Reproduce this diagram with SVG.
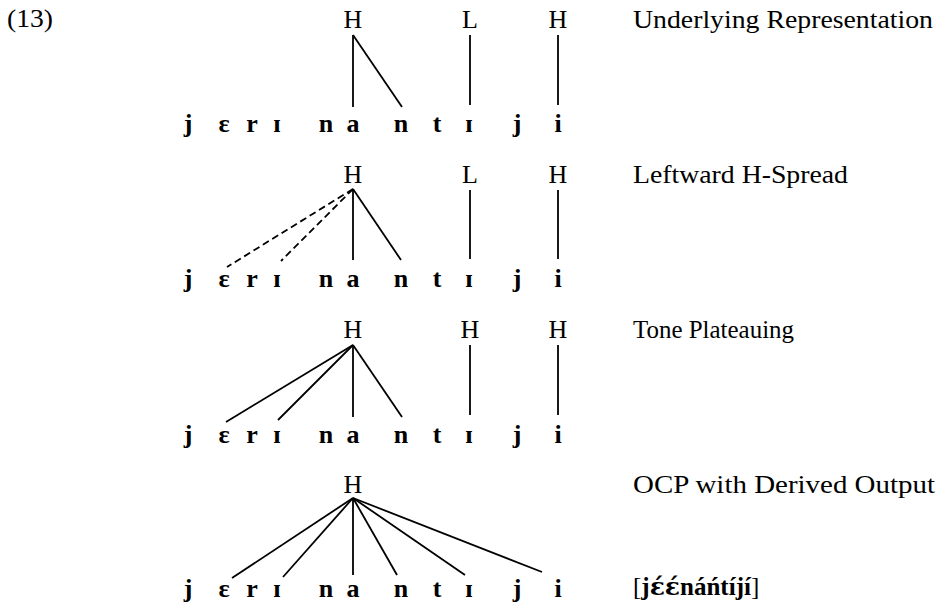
<svg xmlns="http://www.w3.org/2000/svg" width="937" height="602" viewBox="0 0 937 602">
<style>
.t{font-family:"Liberation Serif","DejaVu Serif",serif;font-size:26px;fill:#000;text-anchor:middle}
.s{font-family:"Liberation Serif","DejaVu Serif",serif;font-size:26px;font-weight:bold;fill:#000;text-anchor:middle}
.l{font-family:"Liberation Serif","DejaVu Serif",serif;font-size:25px;fill:#000}
.c line{stroke:#000;stroke-width:1.8;fill:none}
.c line.d{stroke-dasharray:7 4}
</style>
<rect width="937" height="602" fill="#fff"/>
<g id="num"><text class="l" x="7" y="27" textLength="46" lengthAdjust="spacingAndGlyphs">(13)</text></g>

<!-- Labels -->
<g id="label1"><text class="l" x="633" y="28" textLength="300" lengthAdjust="spacingAndGlyphs">Underlying Representation</text></g>
<g id="label2"><text class="l" x="633" y="183" textLength="215" lengthAdjust="spacingAndGlyphs">Leftward H-Spread</text></g>
<g id="label3"><text class="l" x="633" y="338" textLength="161" lengthAdjust="spacingAndGlyphs">Tone Plateauing</text></g>
<g id="label4"><text class="l" x="633" y="493" textLength="302" lengthAdjust="spacingAndGlyphs">OCP with Derived Output</text></g>
<g id="output"><text class="l" x="633" y="595" font-size="27">[<tspan font-weight="bold">j<tspan font-family="'DejaVu Serif',serif" font-size="25">ɛ́ɛ́</tspan>náńtíjí</tspan>]</text></g>

<!-- Row 1 tones -->
<g id="r1-H1"><text class="t" x="353" y="28">H</text></g>
<g id="r1-L"><text class="t" x="470" y="28">L</text></g>
<g id="r1-H2"><text class="t" x="558" y="28">H</text></g>
<!-- Row 2 tones -->
<g id="r2-H1"><text class="t" x="353" y="183">H</text></g>
<g id="r2-L"><text class="t" x="470" y="183">L</text></g>
<g id="r2-H2"><text class="t" x="558" y="183">H</text></g>
<!-- Row 3 tones -->
<g id="r3-H1"><text class="t" x="353" y="338">H</text></g>
<g id="r3-H2"><text class="t" x="470" y="338">H</text></g>
<g id="r3-H3"><text class="t" x="558" y="338">H</text></g>
<!-- Row 4 tone -->
<g id="r4-H"><text class="t" x="353" y="493">H</text></g>

<!-- Segment rows -->
<g id="r1-seg" class="s">
<text x="188" y="132">j</text><text x="224" y="132">ɛ</text><text x="252" y="132">r</text><text x="277" y="132">ɪ</text><text x="326" y="132">n</text><text x="353" y="132">a</text><text x="401" y="132">n</text><text x="437" y="132">t</text><text x="469" y="132">ɪ</text><text x="517" y="132">j</text><text x="558" y="132">i</text>
</g>
<g id="r2-seg" class="s">
<text x="188" y="287">j</text><text x="224" y="287">ɛ</text><text x="252" y="287">r</text><text x="277" y="287">ɪ</text><text x="326" y="287">n</text><text x="353" y="287">a</text><text x="401" y="287">n</text><text x="437" y="287">t</text><text x="469" y="287">ɪ</text><text x="517" y="287">j</text><text x="558" y="287">i</text>
</g>
<g id="r3-seg" class="s">
<text x="188" y="443">j</text><text x="224" y="443">ɛ</text><text x="252" y="443">r</text><text x="277" y="443">ɪ</text><text x="326" y="443">n</text><text x="353" y="443">a</text><text x="401" y="443">n</text><text x="437" y="443">t</text><text x="469" y="443">ɪ</text><text x="517" y="443">j</text><text x="558" y="443">i</text>
</g>
<g id="r4-seg" class="s">
<text x="188" y="597">j</text><text x="224" y="597">ɛ</text><text x="252" y="597">r</text><text x="277" y="597">ɪ</text><text x="326" y="597">n</text><text x="353" y="597">a</text><text x="401" y="597">n</text><text x="437" y="597">t</text><text x="469" y="597">ɪ</text><text x="517" y="597">j</text><text x="558" y="597">i</text>
</g>

<!-- Connectors -->
<g id="connectors" class="c">
<line x1="353" y1="35" x2="353" y2="107"/>
<line x1="353" y1="35" x2="402" y2="107"/>
<line x1="470" y1="35" x2="470" y2="105"/>
<line x1="558" y1="35" x2="558" y2="105"/>

<line class="d" x1="353" y1="189" x2="227" y2="267"/>
<line class="d" x1="353" y1="189" x2="281" y2="261"/>
<line x1="353" y1="189" x2="353" y2="260"/>
<line x1="353" y1="189" x2="401" y2="260"/>
<line x1="470" y1="190" x2="470" y2="259"/>
<line x1="558" y1="190" x2="558" y2="259"/>

<line x1="353" y1="345" x2="226" y2="422"/>
<line x1="353" y1="345" x2="278" y2="420"/>
<line x1="353" y1="345" x2="353" y2="417"/>
<line x1="353" y1="345" x2="402" y2="417"/>
<line x1="470" y1="345" x2="470" y2="415"/>
<line x1="558" y1="345" x2="558" y2="415"/>

<line x1="353" y1="498" x2="232" y2="578"/>
<line x1="353" y1="498" x2="283" y2="577"/>
<line x1="353" y1="498" x2="353" y2="575"/>
<line x1="353" y1="498" x2="397" y2="575"/>
<line x1="353" y1="498" x2="465" y2="575"/>
<line x1="353" y1="498" x2="542" y2="572"/>
</g>
</svg>
